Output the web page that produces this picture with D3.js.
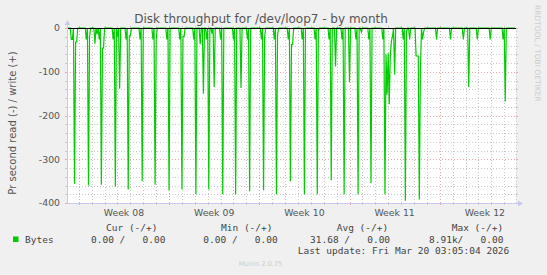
<!DOCTYPE html>
<meta charset="utf-8">
<style>
  body, html { margin: 0; padding: 0; background: #f0f0f0; }
  svg { display: block; }
  text { font-family: "DejaVu Sans", sans-serif; }
  .mono { font-family: "DejaVu Sans Mono", monospace; white-space: pre; }
</style>
<body>
<svg width="547" height="275"></svg>
<script src="https://cdn.jsdelivr.net/npm/d3@7"></script>
<script>
// munin month graph: one sample every 2 hours
var startTime = new Date("2026-02-15T02:00:00Z");
var sampleHours = 2;
var sampleCount = 418;

// [sample index, read bytes/s] -- everything else is 0
var readSpikes = [
  [4,26],[5,26],[7,356],[8,32],[9,32],
  [18,26],[20,360],[21,20],
  [26,36],[28,14],[30,26],[32,358],[33,46],[34,46],
  [43,26],[45,362],[47,20],[49,139],
  [55,26],[57,369],[58,18],[59,18],
  [68,26],[70,350],
  [80,26],[82,358],[83,28],
  [93,26],[95,371],
  [105,26],[107,369],[108,19],[109,19],
  [118,26],[120,380],[124,37],[127,150],
  [130,26],[132,369],[135,13],[137,135],
  [143,26],[145,380],
  [155,26],[157,380],[162,137],
  [168,26],[170,373],
  [181,26],[183,371],[184,20],
  [193,26],[195,380],[196,17],
  [206,26],[208,350],[209,38],[210,38],
  [219,26],[221,380],
  [231,26],[233,380],[234,5],
  [244,26],[246,348],[250,88],
  [256,26],[258,380],[263,124],
  [269,26],[271,380],[274,9],
  [281,26],[283,354],
  [294,26],[296,380],[297,60],[298,152],[299,58],[300,174],[301,60],[302,30],[303,20],[305,106],
  [313,26],[315,395],[316,9],[319,26],
  [325,64],[326,64],[327,64],[328,392],[329,97],[331,26],[332,9],
  [344,26],[357,26],[369,26],[374,135],[382,26],[394,26],[406,26],[408,168]
];

var yTicks = [0, -100, -200, -300, -400];
var legendHeads = ["Cur (-/+)", "Min (-/+)", "Avg (-/+)", "Max (-/+)"];
var legendVals = ["0.00 /   0.00", "0.00 /   0.00", "31.68 /   0.00", "8.91k/   0.00"];
var seriesName = "Bytes";
var lineColor = "#00cc00";

var svg = d3.select("svg");
var margin = {left: 67, top: 28},
    width = 449,
    height = 175;

var endTime = new Date(+startTime + sampleCount * sampleHours * 3600e3);
var x = d3.scaleUtc().domain([startTime, endTime]).range([margin.left, margin.left + width]);
var y = d3.scaleLinear().domain([-400, 0]).range([margin.top + height, margin.top]);

var data = d3.range(sampleCount).map(function(i) { return 0; });
readSpikes.forEach(function(d) { data[d[0]] = d[1]; });

// plot background
svg.append("rect")
    .attr("x", margin.left).attr("y", margin.top)
    .attr("width", width).attr("height", height)
    .attr("fill", "#fff");

var grid = svg.append("g");
var px = function(v) { return Math.round(v) + 0.5; };

// vertical grid: days (minor), weeks (major)
var days = d3.utcDay.range(startTime, endTime);
var weeks = d3.utcMonday.range(startTime, endTime);
days.forEach(function(d) {
  var major = d.getUTCDay() == 1;
  var xx = px(x(d));
  var col = major ? "#e8a6a6" : "#c8c8c8";
  grid.append("line").attr("x1", xx).attr("x2", xx)
      .attr("y1", margin.top).attr("y2", margin.top + height)
      .attr("stroke", col).attr("stroke-dasharray", "1,2");
  grid.append("line").attr("x1", xx).attr("x2", xx)
      .attr("y1", margin.top + height).attr("y2", margin.top + height + 2)
      .attr("stroke", col);
  grid.append("line").attr("x1", xx).attr("x2", xx)
      .attr("y1", margin.top - 2).attr("y2", margin.top)
      .attr("stroke", col);
});
// right edge line
grid.append("line").attr("x1", px(margin.left + width)).attr("x2", px(margin.left + width))
    .attr("y1", margin.top).attr("y2", margin.top + height)
    .attr("stroke", "#c8c8c8").attr("stroke-dasharray", "1,2");

// horizontal grid: every 20 (minor), every 100 (major)
d3.range(-400, 1, 20).forEach(function(v) {
  var major = v % 100 == 0;
  var yy = px(y(v));
  var col = major ? "#e8a6a6" : "#c8c8c8";
  grid.append("line").attr("x1", margin.left).attr("x2", margin.left + width)
      .attr("y1", yy).attr("y2", yy)
      .attr("stroke", col).attr("stroke-dasharray", "1,2");
  grid.append("line").attr("x1", margin.left - 2).attr("x2", margin.left)
      .attr("y1", yy).attr("y2", yy).attr("stroke", col);
  grid.append("line").attr("x1", margin.left + width).attr("x2", margin.left + width + 2)
      .attr("y1", yy).attr("y2", yy).attr("stroke", col);
});

// data line (read plotted negative)
var line = d3.line()
    .x(function(d, i) { return x(new Date(+startTime + i * sampleHours * 3600e3)); })
    .y(function(d) { return y(-d); });

svg.append("path")
    .datum(data)
    .attr("d", line)
    .attr("fill", "none")
    .attr("stroke", lineColor)
    .attr("stroke-width", 1.2);

// zero line
svg.append("line")
    .attr("x1", margin.left).attr("x2", margin.left + width)
    .attr("y1", px(y(0))).attr("y2", px(y(0)))
    .attr("stroke", "#000");

// axes
var axisCol = "#c8c8f0";
svg.append("line")
    .attr("x1", margin.left).attr("x2", margin.left + width + 3)
    .attr("y1", px(y(-400))).attr("y2", px(y(-400)))
    .attr("stroke", axisCol);
svg.append("line")
    .attr("x1", px(margin.left)).attr("x2", px(margin.left))
    .attr("y1", margin.top - 4).attr("y2", margin.top + height)
    .attr("stroke", axisCol);
var ax = margin.left + width + 2, ay = px(y(-400));
svg.append("path")
    .attr("d", "M" + ax + "," + (ay - 3) + "L" + (ax + 5) + "," + ay + "L" + ax + "," + (ay + 3) + "Z")
    .attr("fill", axisCol);
var bx = px(margin.left), by = margin.top - 3;
svg.append("path")
    .attr("d", "M" + (bx - 3) + "," + by + "L" + bx + "," + (by - 5) + "L" + (bx + 3) + "," + by + "Z")
    .attr("fill", axisCol);

// y labels
svg.append("g").selectAll("text")
    .data(yTicks)
    .enter().append("text")
    .attr("x", margin.left - 7)
    .attr("y", function(d) { return y(d) + 3.4; })
    .attr("text-anchor", "end")
    .attr("fill", "#555")
    .style("font-size", "9.33px")
    .text(function(d) { return d; });

// x labels: centered in each week
var fmt = d3.utcFormat("Week %V");
svg.append("g").selectAll("text")
    .data(weeks)
    .enter().append("text")
    .attr("x", function(d) { return x(new Date(+d + 3.5 * 864e5)); })
    .attr("y", margin.top + height + 13)
    .attr("text-anchor", "middle")
    .attr("fill", "#555")
    .style("font-size", "9.33px")
    .text(fmt);

// title
svg.append("text")
    .attr("x", 261).attr("y", 23)
    .attr("text-anchor", "middle")
    .attr("fill", "#555")
    .style("font-size", "12px")
    .text("Disk throughput for /dev/loop7 - by month");

// vertical label
svg.append("text")
    .attr("transform", "translate(15.5,123) rotate(-90)")
    .attr("text-anchor", "middle")
    .attr("fill", "#555")
    .style("font-size", "10px")
    .text("Pr second read (-) / write (+)");

// watermark
svg.append("text")
    .attr("transform", "translate(535,5) rotate(90)")
    .attr("text-anchor", "start")
    .attr("fill", "#ccc")
    .style("font-size", "7.5px")
    .text("RRDTOOL / TOBI OETIKER");

// legend
var lg = svg.append("g").attr("class", "mono").style("font-size", "9.5px").attr("fill", "#444");
var colX = [106, 221, 336.7, 451.7];
var valX = [91, 203.3, 310, 429];
lg.selectAll(".head").data(legendHeads).enter().append("text")
    .attr("class", "head mono")
    .attr("x", function(d, i) { return colX[i]; })
    .attr("y", 230.5)
    .text(function(d) { return d; });
lg.selectAll(".val").data(legendVals).enter().append("text")
    .attr("class", "val mono")
    .attr("x", function(d, i) { return valX[i]; })
    .attr("y", 242.5)
    .text(function(d) { return d; });
lg.append("rect")
    .attr("x", 13).attr("y", 236.5).attr("width", 5.5).attr("height", 5.5)
    .attr("fill", lineColor);
lg.append("text").attr("class", "mono")
    .attr("x", 25).attr("y", 242.5)
    .text(seriesName);
lg.append("text").attr("class", "mono")
    .attr("x", 297.7).attr("y", 254.3)
    .text("Last update: Fri Mar 20 03:05:04 2026");

svg.append("text")
    .attr("x", 260.7).attr("y", 266)
    .attr("text-anchor", "middle")
    .attr("fill", "#ccc")
    .style("font-size", "6.7px")
    .text("Munin 2.0.75");
</script>
